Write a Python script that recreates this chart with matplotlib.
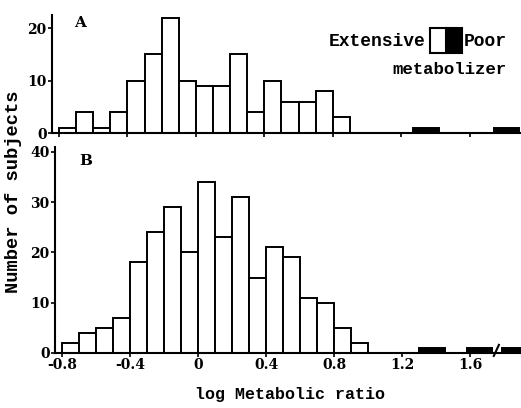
import numpy as np
import matplotlib
matplotlib.use("Agg")
import matplotlib.pyplot as plt
from matplotlib.patches import Rectangle
from matplotlib.lines import Line2D

# --- data ---
# bins of 0.1 in log metabolic ratio, starting at -0.8
a_edges_start = -0.8
a_counts = [1, 4, 1, 4, 10, 15, 22, 10, 9, 9, 15, 4, 10, 6, 6, 8, 3]
b_counts = [2, 4, 5, 7, 18, 24, 29, 20, 34, 23, 31, 15, 21, 19, 11, 10, 5, 2]
bin_width = 0.1

# poor metabolizers (black bars, right of the break)
poor_a_x = [1.27, 1.74]
poor_a_n = [1, 1]
poor_b_x = [1.30, 1.58, 1.79]
poor_b_n = [1, 1, 1]
poor_width = 0.15

xticks = [-0.8, -0.4, 0, 0.4, 0.8, 1.2, 1.6]
xticklabels = ["-0.8", "-0.4", "0", "0.4", "0.8", "1.2", "1.6"]

tick_font = dict(family="DejaVu Serif", weight="bold", size=10)
mono = ["Liberation Mono", "DejaVu Sans Mono"]

fig = plt.figure(figsize=(5.21, 4.08), dpi=100)
ax_a = fig.add_axes([0.100, 0.674, 0.900, 0.289])
ax_b = fig.add_axes([0.106, 0.135, 0.894, 0.505])


def draw_panel(ax, counts, poor_x, poor_n, ymax, yticks):
    lefts = a_edges_start + bin_width * np.arange(len(counts))
    ax.bar(lefts, counts, width=bin_width, align="edge",
           facecolor="white", edgecolor="black", linewidth=1.4)
    ax.bar(poor_x, poor_n, width=poor_width, align="edge",
           facecolor="black", edgecolor="black", linewidth=1.4)
    ax.set_xlim(-0.84, 1.90)
    ax.set_ylim(0, ymax)
    ax.set_yticks(yticks)
    ax.set_xticks(xticks)
    for s in ["top", "right"]:
        ax.spines[s].set_visible(False)
    for s in ["left", "bottom"]:
        ax.spines[s].set_linewidth(1.5)
    ax.tick_params(direction="out", length=3, width=1.2, pad=1)
    for lab in ax.get_yticklabels():
        lab.set_fontfamily(tick_font["family"])
        lab.set_fontweight(tick_font["weight"])
        lab.set_fontsize(tick_font["size"])


draw_panel(ax_a, a_counts, poor_a_x, poor_a_n, 22.5, [0, 10, 20])
ax_a.set_xticklabels([])
draw_panel(ax_b, b_counts, poor_b_x, poor_b_n, 41, [0, 10, 20, 30, 40])
ax_b.set_xticklabels(xticklabels, **tick_font)

# axis break mark in panel B
ax_b.add_line(Line2D([1.74, 1.77], [-0.6, 1.6], color="black", lw=1.5,
                     clip_on=False))

ax_a.text(-0.71, 20.3, "A", fontdict=dict(family="DejaVu Serif", weight="bold", size=11))
ax_b.text(-0.70, 37.3, "B", fontdict=dict(family="DejaVu Serif", weight="bold", size=11))

fig.text(0.557, 0.032, "log Metabolic ratio", ha="center", va="center",
         family=mono, weight="bold", size=12)
fig.text(0.026, 0.53, "Number of subjects", ha="center", va="center",
         rotation=90, family=mono, weight="bold", size=13.5)

# legend
fig.patches.append(Rectangle((430 / 521, 1 - 53 / 408), 16 / 521, 25 / 408,
                             transform=fig.transFigure, facecolor="white",
                             edgecolor="black", linewidth=1.5))
fig.patches.append(Rectangle((447 / 521, 1 - 53 / 408), 15 / 521, 25 / 408,
                             transform=fig.transFigure, facecolor="black",
                             edgecolor="black", linewidth=1.5))
fig.text(426 / 521, 1 - 42 / 408, "Extensive", ha="right", va="center",
         family=mono, weight="bold", size=13)
fig.text(464 / 521, 1 - 42 / 408, "Poor", ha="left", va="center",
         family=mono, weight="bold", size=13)
fig.text(392 / 521, 1 - 70 / 408, "metabolizer", ha="left", va="center",
         family=mono, weight="bold", size=12.5)

fig.savefig("out.png", dpi=100)
